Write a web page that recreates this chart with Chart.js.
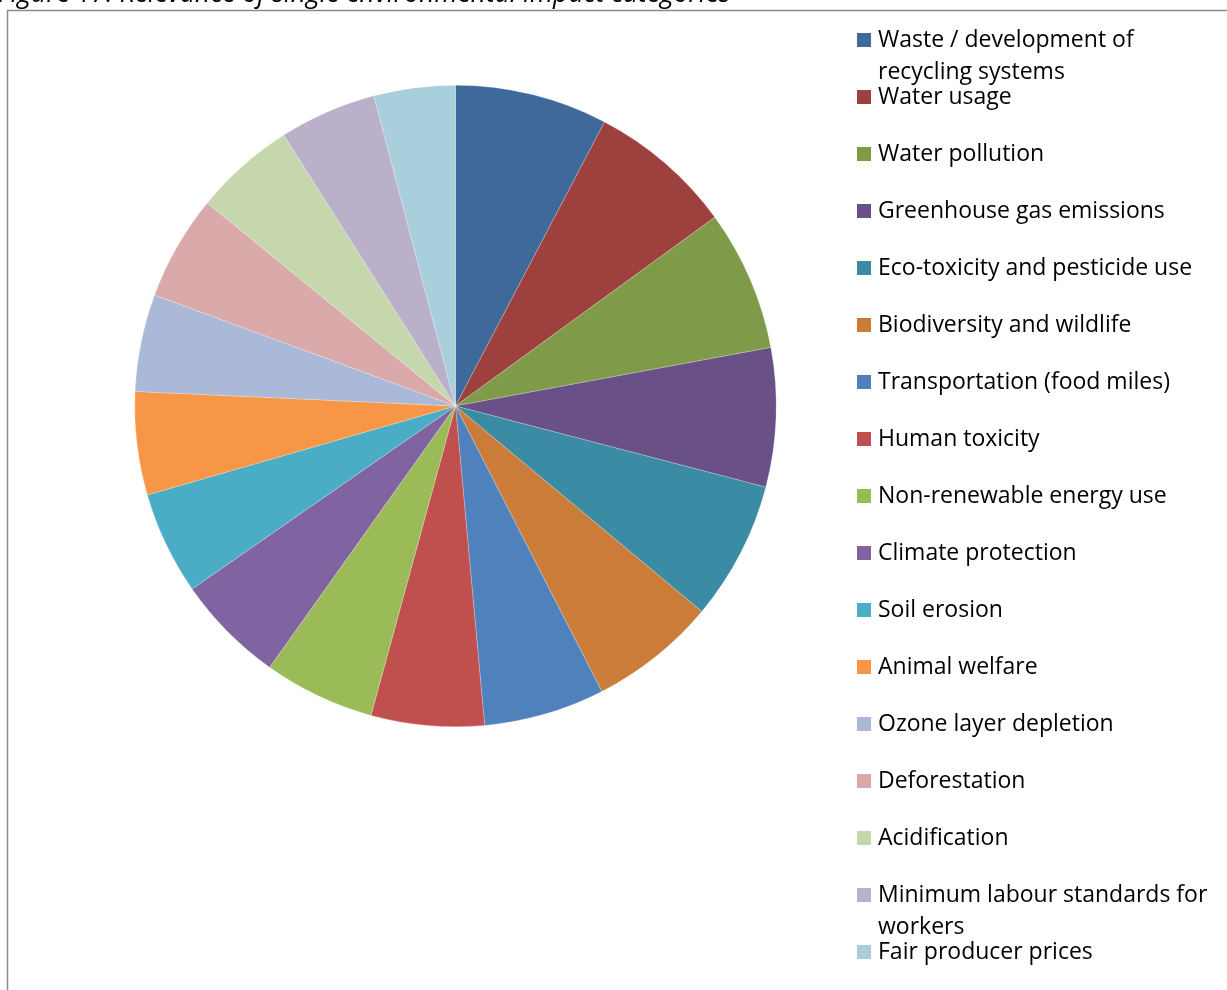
<!DOCTYPE html>
<html>
<head>
<meta charset="utf-8">
<script src="https://cdn.jsdelivr.net/npm/chart.js@4"></script>
<style>
  html, body { margin: 0; padding: 0; background: #fff; }
  #wrap { position: relative; width: 1227px; height: 990px; }
</style>
</head>
<body>
<div id="wrap"><canvas id="pie" width="1227" height="990"></canvas></div>
<script>
const title = 'Figure 17: Relevance of single environmental impact categories';

const categories = [
  ['Waste / development of', 'recycling systems'],
  'Water usage',
  'Water pollution',
  'Greenhouse gas emissions',
  'Eco-toxicity and pesticide use',
  'Biodiversity and wildlife',
  'Transportation (food miles)',
  'Human toxicity',
  'Non-renewable energy use',
  'Climate protection',
  'Soil erosion',
  'Animal welfare',
  'Ozone layer depletion',
  'Deforestation',
  'Acidification',
  ['Minimum labour standards for', 'workers'],
  'Fair producer prices'
];

// share of answers
const values = [7.7, 7.3, 7.1, 7.0, 7.0, 6.4, 6.1, 5.7, 5.6, 5.5, 5.2, 5.2, 4.9, 5.3, 5.1, 4.9, 4.1];

const colors = [
  '#3f699b', '#9e403e', '#7f9a48', '#695086', '#3a8ba3', '#cb7c39',
  '#4f81bd', '#c0504d', '#9bbb59', '#8064a2', '#4bacc6', '#f79646',
  '#aab9d7', '#d9aaa9', '#c6d6ad', '#bab0ca', '#a9cedc'
];

// frame, cut-off caption and the legend on the right
const decor = {
  id: 'decor',
  beforeDraw(chart) {
    const ctx = chart.ctx;
    ctx.save();
    ctx.strokeStyle = '#8c8c8c';
    ctx.lineWidth = 1.5;
    ctx.beginPath();
    ctx.moveTo(7.5, 995);
    ctx.lineTo(7.5, 10.5);
    ctx.lineTo(1240, 10.5);
    ctx.stroke();

    ctx.fillStyle = '#000';
    ctx.font = 'italic 26.5px "Open Sans", sans-serif';
    ctx.textBaseline = 'alphabetic';
    ctx.fillText(title, -2, 1.5);
    ctx.restore();
  },
  afterDraw(chart) {
    const ctx = chart.ctx;
    const labels = chart.data.labels;
    const bg = chart.data.datasets[0].backgroundColor;
    ctx.save();
    ctx.font = '23px "Open Sans", sans-serif';
    ctx.textBaseline = 'middle';
    labels.forEach((lab, i) => {
      const y = 40 + i * 57;
      ctx.fillStyle = bg[i];
      ctx.fillRect(857, y - 7, 14, 14);
      ctx.fillStyle = '#000';
      const lines = Array.isArray(lab) ? lab : [lab];
      lines.forEach((t, k) => ctx.fillText(t, 878, y + k * 32));
    });
    ctx.restore();
  }
};

new Chart(document.getElementById('pie'), {
  type: 'pie',
  data: {
    labels: categories,
    datasets: [{
      data: values,
      backgroundColor: colors,
      borderColor: 'rgba(255,255,255,0.45)',
      borderWidth: 0.5
    }]
  },
  options: {
    responsive: false,
    animation: false,
    layout: { padding: { left: 134.5, top: 85, right: 450.5, bottom: 263 } },
    plugins: {
      legend: { display: false },
      tooltip: { enabled: false }
    }
  },
  plugins: [decor]
});
</script>
</body>
</html>
